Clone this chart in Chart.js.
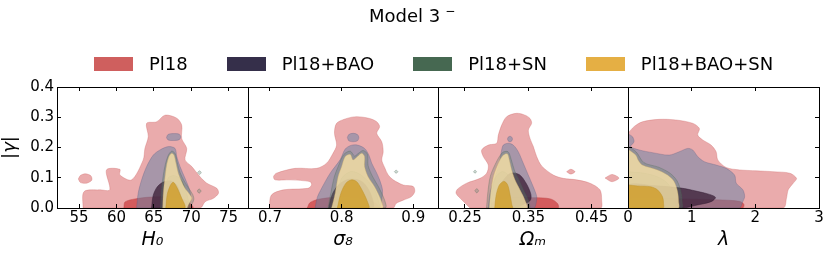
<!DOCTYPE html>
<html>
<head>
<meta charset="utf-8">
<script src="https://cdn.jsdelivr.net/npm/chart.js"></script>
<style>
	body { margin: 0; width: 831px; height: 259px; background: #fff; position: relative; overflow: hidden; font-family: "DejaVu Sans", sans-serif; }
	canvas { position: absolute; top: 0; }
	#title { position: absolute; left: 369px; top: 7px; font-size: 18px; line-height: 18px; white-space: nowrap; }
	#title span { font-size: 12px; position: relative; top: -7px; margin-left: 5px; }
	#legend { position: absolute; left: 94px; top: 55px; display: flex; gap: 39px; font-size: 18px; line-height: 18px; white-space: nowrap; }
	.item { display: flex; align-items: center; }
	.swatch { width: 39px; height: 14px; margin-right: 16px; }
</style>
</head>
<body>
<div id="title">Model 3<span>−</span></div>
<div id="legend"></div>
<script>
const seriesNames = ["Pl18", "Pl18+BAO", "Pl18+SN", "Pl18+BAO+SN"];
const seriesColors = ["#cf5f5e", "#352f4a", "#466851", "#e5af44"];

const gammaTicks = [0, 0.1, 0.2, 0.3, 0.4];
const gammaTickLabels = ["0.0", "0.1", "0.2", "0.3", "0.4"];
const h0Ticks = [55, 60, 65, 70, 75];
const h0TickLabels = ["55", "60", "65", "70", "75"];
const s8Ticks = [0.7, 0.8, 0.9];
const s8TickLabels = ["0.7", "0.8", "0.9"];
const omTicks = [0.25, 0.35, 0.45];
const omTickLabels = ["0.25", "0.35", "0.45"];
const lamTicks = [0, 1, 2, 3];
const lamTickLabels = ["0", "1", "2", "3"];

// contour outlines, [x, |gamma|]
const h0_pl18_outer = [[55.53,0],[55.66,0.054],[57.77,0.06],[59.11,0.06],[58.67,0.126],[60.46,0.128],[60.46,0.109],[62.03,0.093],[63.58,0.159],[63.81,0.197],[64.26,0.236],[64.04,0.28],[65.38,0.285],[66.5,0.307],[68.07,0.297],[68.73,0.274],[68.73,0.23],[69.4,0.197],[69.18,0.159],[70.08,0.137],[71.19,0.103],[72.09,0.082],[73.43,0.065],[73.65,0.049],[72.98,0.032],[71.87,0.021],[71.19,0]];
const h0_pl18_blob = [[54.9,0.096],[55.2,0.108],[55.9,0.113],[56.6,0.106],[56.7,0.092],[56.0,0.082],[55.2,0.084]];
const h0_pl18_inner = [[61.0,0],[61.15,0.02],[62.5,0.03],[64.5,0.036],[67.0,0.036],[69.3,0.025],[70.2,0]];
const h0_bao_outer = [[62.7,0],[62.91,0.049],[63.37,0.093],[64.04,0.137],[64.93,0.175],[65.83,0.192],[66.94,0.203],[67.84,0.197],[68.07,0.17],[68.51,0.137],[69.18,0.098],[69.85,0.054],[69.85,0.021],[69.18,0]];
const h0_bao_blob = [[66.7,0.233],[66.9,0.243],[67.6,0.246],[68.4,0.244],[68.6,0.235],[68.4,0.226],[67.6,0.223],[66.9,0.225]];
const h0_bao_inner = [[64.7,0],[64.9,0.04],[65.4,0.068],[66.2,0.085],[67.2,0.09],[68.1,0.075],[68.6,0.04],[68.7,0]];
const h0_sn_outer = [[65.9,0],[66.0,0.05],[66.25,0.105],[66.55,0.145],[66.95,0.175],[67.4,0.188],[67.85,0.18],[68.15,0.15],[68.5,0.118],[69.0,0.092],[69.6,0.068],[70.2,0.045],[70.35,0.028],[70.0,0.008],[69.8,0]];
const h0_sn_dot1 = [[70.85,0.117],[71.1,0.123],[71.35,0.117],[71.1,0.111]];
const h0_sn_dot2 = [[70.8,0.056],[71.06,0.063],[71.32,0.056],[71.06,0.049]];
const h0_sn_inner = [[66.3,0],[66.5,0.06],[66.95,0.1],[67.7,0.107],[68.6,0.095],[69.3,0.055],[69.7,0.015],[69.7,0]];
const h0_all_outer = [[66.19,0],[66.27,0.049],[66.5,0.103],[66.72,0.142],[67.03,0.17],[67.4,0.181],[67.7,0.175],[67.97,0.148],[68.28,0.115],[68.74,0.087],[69.18,0.065],[69.85,0.043],[70.08,0.032],[69.62,0.01],[69.4,0]];
const h0_all_inner = [[66.6,0],[66.8,0.045],[67.2,0.074],[67.6,0.085],[68.05,0.07],[68.65,0.037],[69.15,0]];

const s8_pl18_outer = [[0.699,0],[0.702,0.043],[0.719,0.06],[0.753,0.065],[0.758,0.076],[0.756,0.087],[0.728,0.093],[0.707,0.093],[0.705,0.104],[0.709,0.115],[0.735,0.131],[0.765,0.131],[0.779,0.148],[0.788,0.181],[0.793,0.208],[0.79,0.247],[0.793,0.28],[0.807,0.296],[0.821,0.302],[0.839,0.296],[0.849,0.285],[0.853,0.269],[0.849,0.247],[0.856,0.219],[0.858,0.186],[0.856,0.159],[0.86,0.134],[0.865,0.109],[0.872,0.093],[0.886,0.076],[0.9,0.071],[0.902,0.054],[0.897,0.037],[0.886,0.026],[0.876,0.015],[0.872,0]];
const s8_pl18_inner = [[0.752,0],[0.756,0.018],[0.77,0.03],[0.8,0.036],[0.83,0.03],[0.848,0.015],[0.852,0]];
const s8_bao_outer = [[0.763,0],[0.766,0.035],[0.772,0.065],[0.784,0.115],[0.798,0.16],[0.805,0.195],[0.813,0.207],[0.822,0.208],[0.832,0.197],[0.838,0.175],[0.842,0.148],[0.848,0.12],[0.853,0.093],[0.857,0.06],[0.856,0.03],[0.852,0]];
const s8_bao_blob = [[0.808,0.233],[0.81,0.243],[0.816,0.247],[0.822,0.243],[0.824,0.233],[0.822,0.222],[0.816,0.219],[0.81,0.222]];
const s8_bao_inner = [[0.782,0],[0.786,0.04],[0.795,0.075],[0.81,0.095],[0.828,0.088],[0.84,0.05],[0.843,0]];
const s8_sn_outer = [[0.781,0],[0.785,0.05],[0.79,0.105],[0.796,0.142],[0.803,0.177],[0.812,0.188],[0.818,0.172],[0.823,0.18],[0.83,0.19],[0.836,0.178],[0.837,0.14],[0.843,0.105],[0.851,0.072],[0.858,0.038],[0.862,0.01],[0.861,0]];
const s8_sn_dot = [[0.8735,0.12],[0.876,0.125],[0.8785,0.12],[0.876,0.115]];
const s8_sn_inner = [[0.792,0],[0.795,0.05],[0.8,0.098],[0.812,0.12],[0.823,0.115],[0.835,0.093],[0.846,0.06],[0.851,0.026],[0.852,0]];
const s8_all_outer = [[0.786,0],[0.791,0.049],[0.795,0.103],[0.8,0.137],[0.805,0.17],[0.812,0.177],[0.816,0.159],[0.822,0.17],[0.828,0.181],[0.832,0.17],[0.832,0.137],[0.837,0.103],[0.846,0.07],[0.853,0.037],[0.858,0.004],[0.857,0]];
const s8_all_inner = [[0.794,0],[0.799,0.049],[0.806,0.082],[0.814,0.093],[0.821,0.087],[0.826,0.07],[0.832,0.043],[0.837,0.015],[0.838,0]];

const om_pl18_outer = [[0.258,0],[0.246,0.025],[0.236,0.048],[0.238,0.062],[0.2526,0.082],[0.2737,0.098],[0.2842,0.115],[0.2868,0.142],[0.2789,0.17],[0.2763,0.192],[0.2868,0.208],[0.30,0.214],[0.3026,0.241],[0.3079,0.274],[0.3158,0.302],[0.3316,0.313],[0.3447,0.307],[0.3526,0.296],[0.3552,0.28],[0.35,0.258],[0.3526,0.23],[0.3579,0.203],[0.3631,0.17],[0.371,0.139],[0.3894,0.109],[0.4052,0.098],[0.4263,0.093],[0.4473,0.082],[0.4631,0.06],[0.4657,0.026],[0.4641,0]];
const om_pl18_blob1 = [[0.4104,0.12],[0.417,0.128],[0.4236,0.12],[0.417,0.112]];
const om_pl18_blob2 = [[0.471,0.099],[0.482,0.111],[0.493,0.099],[0.482,0.087]];
const om_pl18_inner = [[0.29,0],[0.294,0.02],[0.32,0.033],[0.36,0.034],[0.385,0.03],[0.396,0.015],[0.397,0]];
const om_bao_outer = [[0.2868,0],[0.2895,0.049],[0.2974,0.103],[0.3041,0.148],[0.3079,0.192],[0.3105,0.208],[0.3184,0.214],[0.3262,0.208],[0.3341,0.186],[0.342,0.148],[0.3499,0.109],[0.3578,0.07],[0.3632,0.037],[0.3616,0.01],[0.3589,0]];
const om_bao_blob = [[0.317,0.228],[0.3185,0.235],[0.321,0.237],[0.3235,0.235],[0.325,0.228],[0.3235,0.221],[0.321,0.219],[0.3185,0.221]];
const om_bao_inner = [[0.30,0],[0.303,0.05],[0.31,0.09],[0.322,0.115],[0.336,0.11],[0.347,0.08],[0.354,0.045],[0.353,0.025],[0.34,0.01],[0.33,0]];
const om_sn_outer = [[0.284,0],[0.286,0.05],[0.29,0.105],[0.299,0.15],[0.309,0.183],[0.318,0.186],[0.323,0.16],[0.328,0.125],[0.335,0.093],[0.342,0.06],[0.35,0.025],[0.351,0]];
const om_sn_dot1 = [[0.2634,0.12],[0.2658,0.125],[0.2682,0.12],[0.2658,0.115]];
const om_sn_dot2 = [[0.2655,0.057],[0.2685,0.064],[0.2715,0.057],[0.2685,0.05]];
const om_sn_inner = [[0.291,0],[0.293,0.05],[0.298,0.1],[0.308,0.12],[0.317,0.112],[0.327,0.085],[0.337,0.045],[0.34,0]];
const om_all_outer = [[0.2884,0],[0.2905,0.049],[0.2947,0.103],[0.3026,0.148],[0.3105,0.175],[0.3168,0.179],[0.32,0.159],[0.3237,0.126],[0.3289,0.093],[0.3368,0.06],[0.3447,0.026],[0.3474,0]];
const om_all_inner = [[0.297,0],[0.299,0.04],[0.304,0.075],[0.311,0.088],[0.317,0.078],[0.321,0.045],[0.324,0.01],[0.325,0]];

const lam_pl18_outer = [[0,0.247],[0.095,0.269],[0.226,0.285],[0.489,0.293],[0.753,0.291],[1.016,0.28],[1.121,0.263],[1.095,0.241],[1.174,0.225],[1.305,0.208],[1.384,0.186],[1.41,0.159],[1.542,0.134],[1.753,0.126],[2.016,0.123],[2.279,0.12],[2.542,0.115],[2.647,0.098],[2.595,0.082],[2.516,0.06],[2.489,0.032],[2.437,0],[0,0]];
const lam_pl18_inner = [[0,0],[0,0.03],[0.8,0.03],[1.4,0.027],[1.75,0.022],[1.82,0.012],[1.8,0]];
const lam_bao_outer = [[0,0.245],[0.068,0.236],[0.095,0.219],[0.042,0.203],[0.174,0.192],[0.384,0.183],[0.647,0.175],[0.805,0.186],[0.937,0.197],[1.016,0.192],[1.095,0.17],[1.2,0.153],[1.384,0.142],[1.542,0.131],[1.674,0.109],[1.7,0.082],[1.805,0.06],[1.832,0.037],[1.8,0.02],[1.75,0],[0,0]];
const lam_bao_inner = [[0,0],[0,0.075],[0.4,0.074],[0.832,0.066],[1.068,0.056],[1.279,0.045],[1.374,0.035],[1.305,0.021],[1.068,0.009],[0.86,0]];
const lam_sn_outer = [[0,0.205],[0.13,0.185],[0.25,0.15],[0.48,0.135],[0.66,0.115],[0.77,0.09],[0.83,0.055],[0.85,0.02],[0.845,0],[0,0]];
const lam_sn_inner = [[0,0.12],[0.253,0.115],[0.463,0.103],[0.621,0.082],[0.7,0.049],[0.726,0.015],[0.726,0],[0,0]];
const lam_all_outer = [[0,0.194],[0.121,0.175],[0.158,0.159],[0.226,0.142],[0.463,0.126],[0.621,0.109],[0.726,0.087],[0.779,0.054],[0.795,0.021],[0.79,0],[0,0]];
const lam_all_inner = [[0,0.076],[0.147,0.073],[0.358,0.07],[0.463,0.06],[0.542,0.037],[0.558,0.015],[0.55,0],[0,0]];

const fills = {
	pl18o: "rgba(214,94,96,0.52)", pl18i: "rgba(208,78,80,0.85)",
	baoo: "rgba(100,130,165,0.5)", baoi: "rgba(64,35,60,0.8)",
	sno: "rgba(90,125,110,0.3)", sni: "rgba(70,104,81,0.25)",
	allo: "rgba(250,226,168,0.8)", alli: "rgba(209,160,47,0.85)",
};
const lines = {
	pl18o: "rgba(200,90,92,0.5)", pl18i: "rgba(190,70,72,0.8)",
	baoo: "rgba(90,90,130,0.5)", baoi: "rgba(50,30,50,0.8)",
	sno: "rgba(70,104,81,0.5)", sni: "rgba(70,104,81,0.6)",
	allo: "rgba(200,170,100,0.6)", alli: "rgba(190,145,40,0.8)",
};

const panelEdges = [57, 248, 438, 628, 819];
const plotTop = 87, plotBottom = 208;

const panels = [
	{ min: 52.05, max: 77.6, ticks: h0Ticks, labels: h0TickLabels, title: "H₀",
		shapes: [[h0_pl18_outer, "pl18o"], [h0_pl18_blob, "pl18o"], [h0_pl18_inner, "pl18i"], [h0_bao_outer, "baoo"], [h0_bao_blob, "baoo"], [h0_bao_inner, "baoi"],
			[h0_sn_outer, "sno"], [h0_sn_dot1, "sno"], [h0_sn_dot2, "sno"], [h0_sn_inner, "sni"], [h0_all_outer, "allo"], [h0_all_inner, "alli"]] },
	{ min: 0.6693, max: 0.9345, ticks: s8Ticks, labels: s8TickLabels, title: "σ₈",
		shapes: [[s8_pl18_outer, "pl18o"], [s8_pl18_inner, "pl18i"], [s8_bao_outer, "baoo"], [s8_bao_blob, "baoo"], [s8_bao_inner, "baoi"],
			[s8_sn_outer, "sno"], [s8_sn_dot, "sno"], [s8_sn_inner, "sni"], [s8_all_outer, "allo"], [s8_all_inner, "alli"]] },
	{ min: 0.2074, max: 0.5073, ticks: omTicks, labels: omTickLabels, title: "Ωₘ",
		shapes: [[om_pl18_outer, "pl18o"], [om_pl18_blob1, "pl18o"], [om_pl18_blob2, "pl18o"], [om_pl18_inner, "pl18i"], [om_bao_outer, "baoo"], [om_bao_blob, "baoo"], [om_bao_inner, "baoi"],
			[om_sn_outer, "sno"], [om_sn_dot1, "sno"], [om_sn_dot2, "sno"], [om_sn_inner, "sni"], [om_all_outer, "allo"], [om_all_inner, "alli"]] },
	{ min: 0, max: 3, ticks: lamTicks, labels: lamTickLabels, title: "λ",
		shapes: [[lam_pl18_outer, "pl18o"], [lam_pl18_inner, "pl18i"], [lam_bao_outer, "baoo"], [lam_bao_inner, "baoi"],
			[lam_sn_outer, "sno"], [lam_sn_inner, "sni"], [lam_all_outer, "allo"], [lam_all_inner, "alli"]] },
];

Chart.defaults.font.family = "DejaVu Sans";
Chart.defaults.color = "#000";

const legend = document.getElementById("legend");
seriesNames.forEach((name, i) => {
	const item = document.createElement("div");
	item.className = "item";
	item.innerHTML = `<div class="swatch" style="background:${seriesColors[i]}"></div><span>${name}</span>`;
	legend.appendChild(item);
});

const inward = { drawOnChartArea: false, tickLength: -4, color: "#000", tickColor: "#000", lineWidth: 1, z: 1 };
const frame = { display: true, color: "#000", width: 1, z: 1 };
const setTicks = values => axis => { axis.ticks = values.map(v => ({ value: v })); };

panels.forEach((p, i) => {
	const leftW = i === 0 ? panelEdges[0] : 10;
	const rightW = 12;
	const width = leftW + panelEdges[i + 1] - panelEdges[i] + rightW;
	const canvas = document.createElement("canvas");
	canvas.width = width;
	canvas.height = 259;
	canvas.style.left = (panelEdges[i] - leftW) + "px";
	canvas.style.width = width + "px";
	canvas.style.height = "259px";
	document.body.insertBefore(canvas, document.getElementById("title"));

	const n = p.shapes.length;
	const datasets = p.shapes.map(([pts, kind], k) => ({
		data: pts.concat([pts[0]]).map(([x, y]) => ({ x, y })),
		xAxisID: "x",
		yAxisID: "y",
		order: n - k,
		fill: "shape",
		backgroundColor: fills[kind],
		borderColor: lines[kind],
		borderWidth: 0.6,
		tension: 0.3,
		pointRadius: 0,
		pointHitRadius: 0,
	}));

	new Chart(canvas, {
		type: "line",
		data: { datasets },
		options: {
			responsive: false,
			animation: false,
			devicePixelRatio: 1,
			layout: { padding: 0 },
			events: [],
			plugins: { legend: { display: false }, tooltip: { enabled: false } },
			scales: {
				x: {
					type: "linear", position: "bottom", min: p.min, max: p.max,
					afterBuildTicks: setTicks(p.ticks),
					afterFit: s => { s.height = 259 - plotBottom; },
					ticks: { font: { size: 15 }, color: "#000", padding: 5, autoSkip: false, maxRotation: 0, callback: (v, k) => p.labels[k] },
					grid: inward, border: frame,
					title: { display: true, text: p.title, color: "#000", font: { size: 19, style: "italic" }, padding: { top: 0, bottom: 8 } },
				},
				xTop: {
					type: "linear", position: "top", min: p.min, max: p.max,
					afterBuildTicks: setTicks(p.ticks),
					afterFit: s => { s.height = plotTop; },
					ticks: { display: false },
					grid: inward, border: frame,
				},
				y: {
					type: "linear", position: "left", min: 0, max: 0.4,
					afterBuildTicks: setTicks(gammaTicks),
					afterFit: s => { s.width = leftW; },
					ticks: { display: i === 0, font: { size: 15 }, color: "#000", padding: 7, callback: (v, k) => gammaTickLabels[k] },
					grid: inward, border: frame,
					title: { display: i === 0, text: "|γ|", color: "#000", font: { size: 18, style: "italic" }, padding: { top: 0, bottom: 0 } },
				},
				yRight: {
					type: "linear", position: "right", min: 0, max: 0.4,
					afterBuildTicks: setTicks(gammaTicks),
					afterFit: s => { s.width = rightW; },
					ticks: { display: false },
					grid: inward, border: frame,
				},
			},
		},
	});
});
</script>
</body>
</html>
